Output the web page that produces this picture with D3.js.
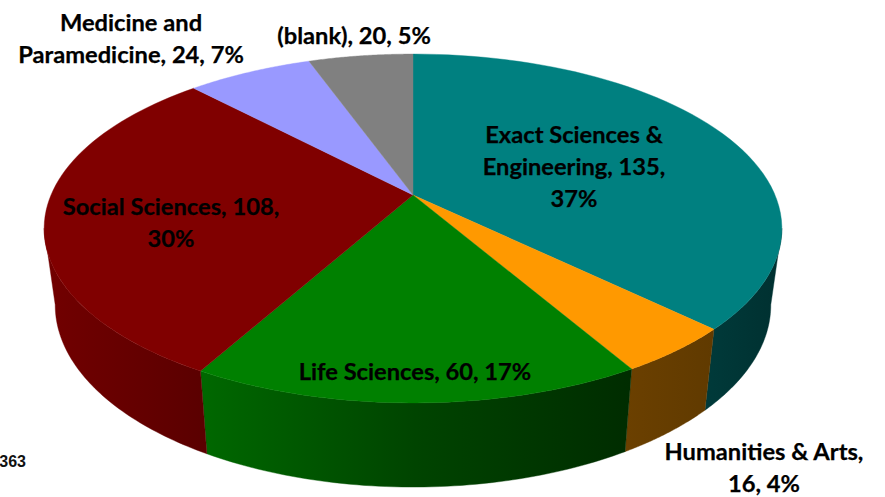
<!DOCTYPE html>
<html><head><meta charset="utf-8">
<script src="https://cdn.jsdelivr.net/npm/d3@7"></script>
<style>html,body{margin:0;padding:0;background:#fff;overflow:hidden}svg{display:block}</style>
</head><body><div id="chart"></div>
<script>
const categories = ["Exact Sciences & Engineering","Humanities & Arts","Life Sciences","Social Sciences","Medicine and Paramedicine","(blank)"];
const values = [135,16,60,108,24,20];
const percents = [37,4,17,30,7,5];
const total = 363;
const topColors = ["#008080","#FF9900","#008000","#800000","#9999FF","#808080"];
const sideStops = [["#003a3a","#003030"],["#6b4000","#603a00"],["#006800","#002c00"],["#720000","#5a0000"],["#444","#444"],["#444","#444"]];
// label line breaks: how the text wraps in the reference
const labelBreaks = [
  ["Exact Sciences &","Engineering, 135,","37%"],
  ["Humanities & Arts,","16, 4%"],
  ["Life Sciences, 60, 17%"],
  ["Social Sciences, 108,","30%"],
  ["Medicine and","Paramedicine, 24, 7%"],
  ["(blank), 20, 5%"]
];
const labelAnchors = [[574,143],[764,460],[415,380],[171,215],[131,31],[354,44]];

const W=885,H=497;
const svg=d3.select("#chart").append("svg").attr("width",W).attr("height",H);
const defs=svg.append("defs");

// perspective projection of the pie disc
const cx=413,k=0.192,ax=362;
const proj={
  top:(t)=>{const u=Math.sin(t),v=Math.cos(t),w=1+k*v;return [cx+ax*u/w,195-168*v/w];},
  bot:(t)=>{const u=Math.sin(t),v=Math.cos(t),w=1+k*v;return [cx+0.97*ax*u/w,270-175.4*v/w];}
};
const pie=d3.pie().value((d,i)=>values[i]).sort(null);
const arcs=pie(categories);
const frontStart=101*Math.PI/180, frontEnd=259*Math.PI/180;
const line=d3.line();
const sample=(a,b)=>d3.range(0,61).map(i=>a+(b-a)*i/60);

// side walls
arcs.forEach((d,i)=>{
  const a=Math.max(d.startAngle,frontStart), b=Math.min(d.endAngle,frontEnd);
  if(b<=a) return;
  const ts=sample(a,b);
  const pts=ts.map(proj.top).concat(ts.slice().reverse().map(proj.bot));
  const xs=pts.map(p=>p[0]);
  const id="side"+i;
  const g=defs.append("linearGradient").attr("id",id).attr("gradientUnits","userSpaceOnUse")
    .attr("x1",d3.min(xs)).attr("x2",d3.max(xs)).attr("y1",0).attr("y2",0);
  g.append("stop").attr("offset",0).attr("stop-color",sideStops[i][0]);
  if(i===2) g.append("stop").attr("offset",0.5).attr("stop-color","#004400");
  g.append("stop").attr("offset",1).attr("stop-color",sideStops[i][1]);
  svg.append("path").attr("d",line(pts)+"Z").attr("fill",`url(#${id})`)
    .attr("stroke",`url(#${id})`).attr("stroke-width",0.4);
});

// top face
arcs.forEach((d,i)=>{
  const pts=[[cx,195]].concat(sample(d.startAngle,d.endAngle).map(proj.top));
  svg.append("path").attr("d",line(pts)+"Z").attr("fill",topColors[i])
    .attr("stroke",topColors[i]).attr("stroke-width",0.4);
});

// labels
const lh=32;
labelBreaks.forEach((lines,i)=>{
  const t=svg.append("text").attr("text-anchor","middle")
    .attr("font-family","Lato, 'Open Sans', sans-serif").attr("font-weight",700)
    .attr("font-size",23.7).attr("fill","#000").attr("stroke","#000").attr("stroke-width",0.25);
  lines.forEach((l,j)=>t.append("tspan").attr("x",labelAnchors[i][0]).attr("y",labelAnchors[i][1]+j*lh).text(l));
});
svg.append("text").attr("x",26).attr("y",467).attr("text-anchor","end")
  .attr("font-family","'Liberation Sans', Arial, sans-serif").attr("font-weight",700)
  .attr("font-size",16).attr("fill","#111").text(total);
</script></body></html>
